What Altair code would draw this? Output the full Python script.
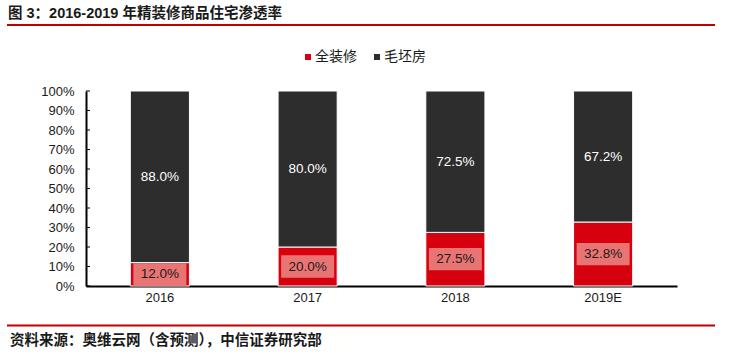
import altair as alt
import pandas as pd

years = ["2016", "2017", "2018", "2019E"]
finished = [12.0, 20.0, 27.5, 32.8]   # 全装修
rough = [88.0, 80.0, 72.5, 67.2]      # 毛坯房
series = ["全装修", "毛坯房"]
y_ticks = [0, 10, 20, 30, 40, 50, 60, 70, 80, 90, 100]
title_text = "图 3：2016-2019 年精装修商品住宅渗透率"
source_text = "资料来源：奥维云网（含预测），中信证券研究部"

FONT = "Liberation Sans, Arial, Noto Sans CJK SC"
RED = "#D7000F"
DARK = "#2D2D2D"
PINK = "#E97474"
LINE_RED = "#C00000"

rows = []
for i, y in enumerate(years):
    rows.append({"year": y, "series": series[0], "value": finished[i], "ord": 0,
                 "mid": finished[i] / 2, "label": f"{finished[i]:.1f}%"})
    rows.append({"year": y, "series": series[1], "value": rough[i], "ord": 1,
                 "mid": finished[i] + rough[i] / 2, "label": f"{rough[i]:.1f}%"})
df = pd.DataFrame(rows)
bottom = df[df["ord"] == 0]
top = df[df["ord"] == 1]

W, H = 591, 195

xaxis = alt.Axis(title=None, labelAngle=0, ticks=False, domainWidth=2,
                 domainColor="#000", labelFontSize=13, labelFont=FONT,
                 labelColor="#1a1a1a", labelPadding=5)
xscale = alt.Scale(paddingInner=0.6, paddingOuter=0.3)
yaxis = alt.Axis(title=None, values=y_ticks, grid=False, ticks=False,
                 domainWidth=2, domainColor="#000", labelOverlap=False,
                 labelFlush=False, labelBound=False,
                 labelExpr="datum.value + '%'", labelFontSize=13,
                 labelFont=FONT, labelColor="#1a1a1a", labelPadding=12)
yscale = alt.Scale(domain=[0, 100], nice=False)


def X():
    return alt.X("year:N", sort=years, scale=xscale, axis=xaxis)


def Y(field, **kw):
    return alt.Y(field, scale=yscale, axis=yaxis, **kw)


bars = alt.Chart(df).mark_bar(stroke="white", strokeWidth=1).encode(
    x=X(),
    y=Y("value:Q", stack="zero"),
    color=alt.Color("series:N", scale=alt.Scale(domain=series, range=[RED, DARK]),
                    legend=alt.Legend(orient="none", legendX=215, legendY=-41,
                                      direction="horizontal", title=None,
                                      symbolType="square", symbolSize=36,
                                      symbolStrokeWidth=0, labelFontSize=14,
                                      labelFont=FONT, labelColor="#1a1a1a",
                                      columnPadding=13, labelOffset=0)),
    order=alt.Order("ord:Q"),
)

ticks = alt.Chart(pd.DataFrame({"t": y_ticks})).mark_rule(color="#000", strokeWidth=1).encode(
    y=Y("t:Q"), x=alt.value(0), x2=alt.value(4)
)

boxes = alt.Chart(bottom).mark_point(
    shape="M-1,-0.42H1V0.42H-1Z", size=2809, filled=True, color=PINK,
    opacity=1, strokeWidth=0
).encode(x=X(), y=Y("mid:Q"))

bottom_text = alt.Chart(bottom).mark_text(
    fontSize=13.5, font=FONT, color="#1a1a1a", baseline="middle", align="center"
).encode(x=X(), y=Y("mid:Q"), text="label:N")

top_text = alt.Chart(top).mark_text(
    fontSize=13.5, font=FONT, color="white", baseline="middle", align="center"
).encode(x=X(), y=Y("mid:Q"), text="label:N")

title = alt.Chart(pd.DataFrame({"t": [title_text]})).mark_text(
    fontSize=14.5, fontWeight="bold", font=FONT, color="#1a1a1a", align="left",
    baseline="middle"
).encode(x=alt.value(-78), y=alt.value(-77), text="t:N")

source = alt.Chart(pd.DataFrame({"t": [source_text]})).mark_text(
    fontSize=14.5, fontWeight="bold", font=FONT, color="#1a1a1a", align="left",
    baseline="middle"
).encode(x=alt.value(-76), y=alt.value(250), text="t:N")

lines = alt.Chart(pd.DataFrame({"p": [-66, 234.5]})).mark_rule(
    color=LINE_RED, strokeWidth=2
).encode(x=alt.value(-79), x2=alt.value(629), y=alt.Y("p:Q", scale=None))

chart = alt.layer(bars, ticks, boxes, bottom_text, top_text, title, source, lines).properties(
    width=W, height=H,
    autosize=alt.AutoSizeParams(type="none"),
    padding={"left": 86, "top": 91, "right": 53, "bottom": 71},
    background="white",
).configure_view(stroke=None)

chart.save("out.html", embed_options={"renderer": "svg", "actions": False})
